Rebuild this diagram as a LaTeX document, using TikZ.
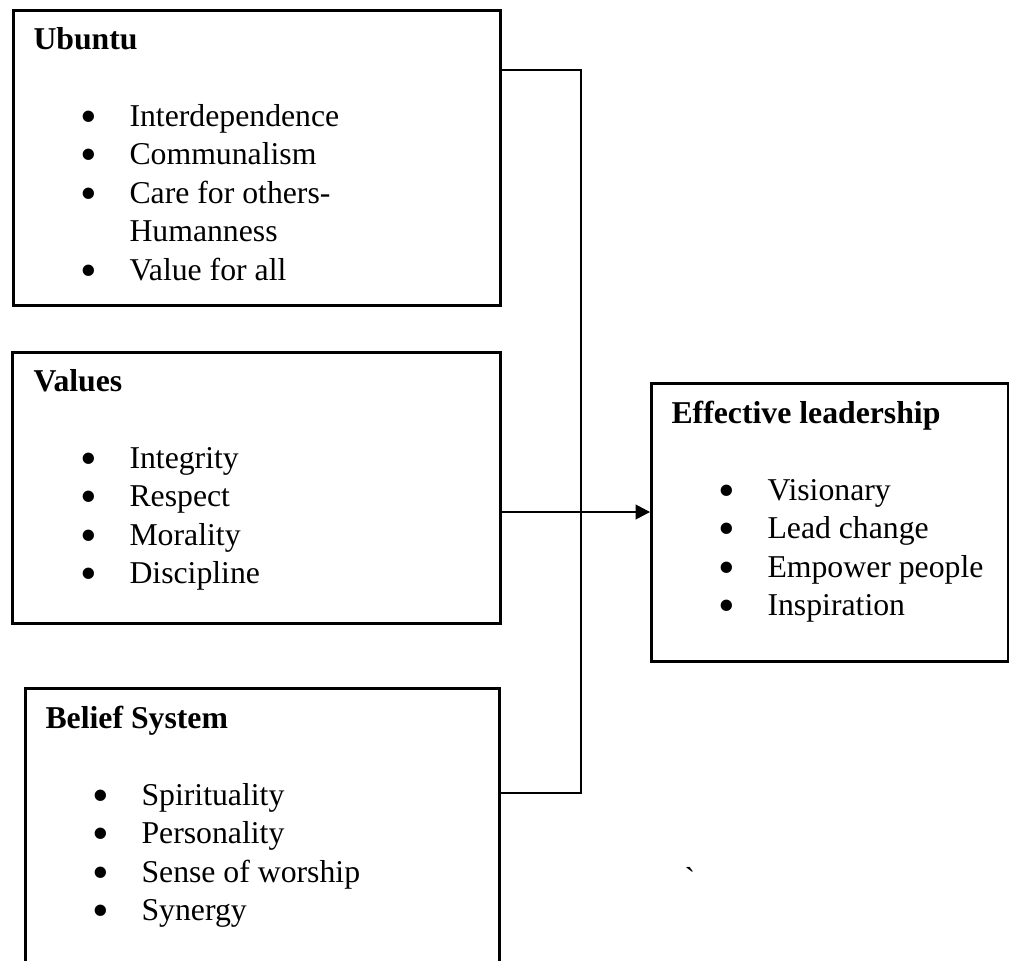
\documentclass[tikz,border=0pt]{standalone}
\usepackage{fontspec}
\setmainfont{Liberation Serif}
\usetikzlibrary{positioning,arrows.meta}

\newcommand{\bigdot}{\smash{\raisebox{-2.4pt}{\fontsize{19}{19}\selectfont\textbullet}}}
\newcommand{\itm}[1]{\hspace*{22pt}\makebox[0pt]{\bigdot}\hspace*{16.4pt}#1}
\newcommand{\itmcont}[1]{\hspace*{38.4pt}#1}

\begin{document}
\begin{tikzpicture}[x=0.4pt,y=-0.4pt]
	
	\tikzset{factor box/.style={
			draw,
			line width=1.2pt,
			inner sep=0pt,
			anchor=north west
		},
		factor list/.style={
			anchor=base west,
			inner sep=0pt,
			font=\fontsize{12.7}{15.4}\selectfont
		},
		link/.style={line width=0.5pt}
	}
	\path[use as bounding box, clip] (0,0) rectangle (1009,961);
	
	% the four boxes
	\node[factor box, minimum width=194.8pt, minimum height=118pt] (ubuntu) at (11.5,8.5) {};
	\node[factor box, minimum width=195pt, minimum height=108.4pt] (values) at (11,351) {};
	\node[factor box, minimum width=189.4pt, minimum height=125.2pt] (belief) at (24,687) {};
	\node[factor box, minimum width=142.8pt, minimum height=111.2pt] (eff) at (650,382) {};
	
	% their texts
	\node[factor list] (ubuntulist) at ([shift={(21.5,40.5)}]ubuntu.north west) {\begin{tabular}[t]{@{}l@{}}
			\textbf{Ubuntu}\\ \\
			\itm{Interdependence}\\
			\itm{Communalism}\\
			\itm{Care for others-}\\
			\itmcont{Humanness}\\
			\itm{Value for all}
		\end{tabular}};
	\node[factor list] (valueslist) at ([shift={(22,40)}]values.north west) {\begin{tabular}[t]{@{}l@{}}
			\textbf{Values}\\ \\
			\itm{Integrity}\\
			\itm{Respect}\\
			\itm{Morality}\\
			\itm{Discipline}
		\end{tabular}};
	\node[factor list] (belieflist) at ([shift={(21,41)}]belief.north west) {\begin{tabular}[t]{@{}l@{}}
			\textbf{Belief System}\\ \\
			\itm{Spirituality}\\
			\itm{Personality}\\
			\itm{Sense of worship}\\
			\itm{Synergy}
		\end{tabular}};
	\node[factor list] (efflist) at ([shift={(21,41)}]eff.north west) {\begin{tabular}[t]{@{}l@{}}
			\textbf{Effective leadership}\\ \\
			\itm{Visionary}\\
			\itm{Lead change}\\
			\itm{Empower people}\\
			\itm{Inspiration}
		\end{tabular}};
	\node[factor list, anchor=base] (tick) at (690,889) {\textasciigrave};
	
	% connectors
	\coordinate (bustop) at (581,70);
	\coordinate (hub) at (581,512);
	\coordinate (busend) at (581,793);
	\draw[link] (bustop -| ubuntu.east) -- (bustop) -- (busend) -- (busend -| belief.east);
	\draw[link] (hub -| values.east) -- (hub);
	\draw[link, -{Triangle[length=5.8pt,width=6pt]}] (hub) -- (hub -| eff.west);
	
\end{tikzpicture}
\end{document}
